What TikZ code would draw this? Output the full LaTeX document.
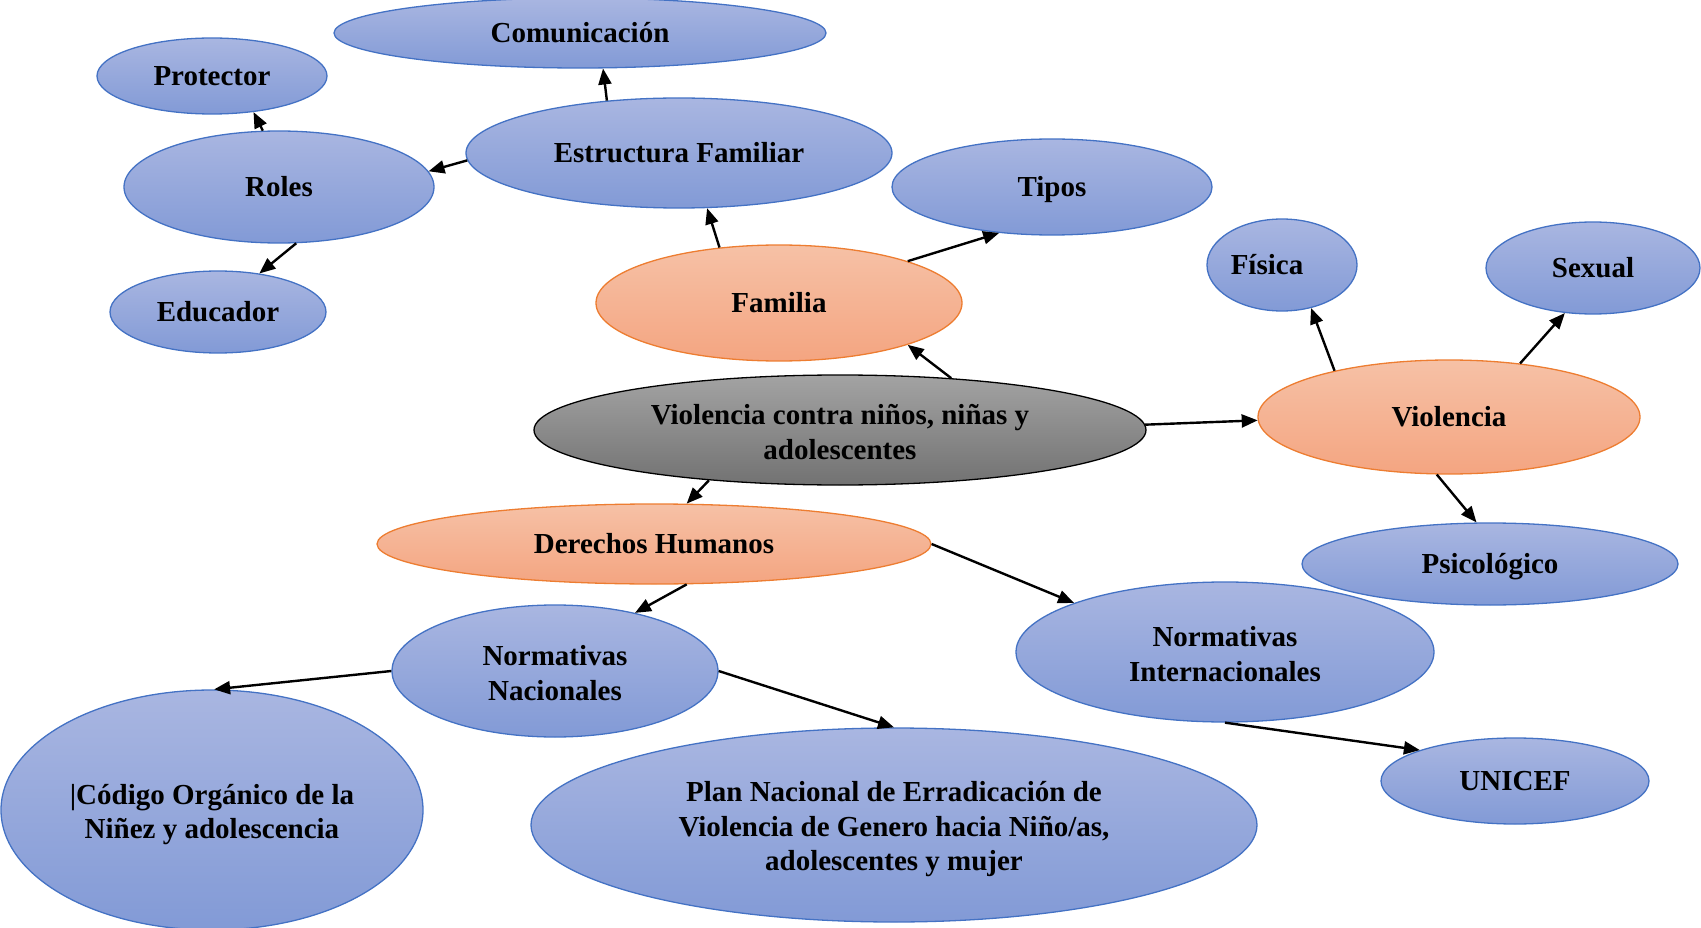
\documentclass[tikz,border=0pt]{standalone}
\usepackage{fontspec}
\setmainfont{Liberation Serif}
\usetikzlibrary{shapes.geometric,arrows.meta}
\definecolor{blueT}{RGB}{169,182,225}
\definecolor{blueB}{RGB}{130,154,214}
\definecolor{blueL}{RGB}{68,114,196}
\definecolor{orT}{RGB}{246,193,166}
\definecolor{orB}{RGB}{244,165,129}
\definecolor{orL}{RGB}{237,125,49}
\definecolor{grT}{RGB}{163,163,163}
\definecolor{grB}{RGB}{114,114,114}
\newcommand\mystrut{\rule[-6pt]{0pt}{31pt}}
\tikzset{
  base/.style={ellipse, inner sep=0pt, align=center, line width=1.3pt,
    font=\fontsize{29}{34.5}\selectfont\bfseries,
    execute at begin node=\mystrut, execute at end node=\mystrut},
  multi/.style={execute at begin node={\rule{0pt}{#1pt}}},
  bluebox/.style={base, draw=blueL, top color=blueT, bottom color=blueB},
  orbox/.style={base, draw=orL, top color=orT, bottom color=orB},
  graybox/.style={base, draw=black, top color=grT, bottom color=grB},
  sz/.style 2 args={minimum width=#1pt, minimum height=#2pt},
  conn/.style={line width=2.4pt, -{Triangle[length=16pt,width=13pt]}}
}
\begin{document}
\begin{tikzpicture}[x=1pt,y=-1pt]
\useasboundingbox (0,0) rectangle (1701,928);
% nodes
\node[bluebox, sz={492}{70}] (com) at (580,33) {Comunicación};
\node[bluebox, sz={230}{76}] (prot) at (212,76) {Protector};
\node[bluebox, sz={426}{110}] (estr) at (679,153) {Estructura Familiar};
\node[bluebox, sz={310}{112}] (roles) at (279,187) {Roles};
\node[bluebox, sz={320}{96}] (tipos) at (1052,187) {Tipos};
\node[bluebox, sz={216}{82}] (edu) at (218,312) {Educador};
\node[orbox, sz={366}{116}] (fam) at (779,303) {Familia};
\node[bluebox, sz={150}{92}] (fis) at (1282,265) {Física\hspace*{30pt}};
\node[bluebox, sz={214}{92}] (sex) at (1593,268) {Sexual};
\node[graybox, multi=64, sz={612}{110}] (cen) at (840,430) {Violencia contra niños, niñas y\\adolescentes};
\node[orbox, sz={382}{114}] (viol) at (1449,417) {Violencia};
\node[orbox, sz={554}{80}] (der) at (654,544) {Derechos Humanos};
\node[bluebox, sz={376}{82}] (psic) at (1490,564) {Psicológico};
\node[bluebox, multi=64, sz={326}{132}] (nn) at (555,671) {Normativas\\Nacionales};
\node[bluebox, multi=64, sz={418}{140}] (ni) at (1225,652) {Normativas\\Internacionales};
\node[bluebox, multi=64, sz={422}{240}] (cod) at (212,810) {|Código Orgánico de la\\Niñez y adolescencia};
\node[bluebox, multi=98, sz={726}{194}] (plan) at (894,825) {Plan Nacional de Erradicación de\\Violencia de Genero hacia Niño/as,\\adolescentes y mujer};
\node[bluebox, sz={268}{86}] (un) at (1515,781) {UNICEF};
% connectors
\draw[conn] (estr.144) -- (com.-57);
\draw[conn] (estr.182) -- (roles.6);
\draw[conn] (roles.106) -- (prot.-41);
\draw[conn] (roles.-73) -- (edu.43);
\draw[conn] (fam.137) -- (estr.-63);
\draw[conn] (fam.18) -- (tipos.-139);
\draw[conn] (cen.25) -- (fam.-18);
\draw[conn] (cen.1) -- (viol.181);
\draw[conn] (cen.-159) -- (der.51);
\draw[conn] (viol.158) -- (fis.-56);
\draw[conn] (viol.37) -- (sex.-122);
\draw[conn] (viol.-102) -- (psic.108);
\draw[conn] (der.-51) -- (nn.36);
\draw[conn] (der.0) -- (ni.162);
\draw[conn] (nn.180) -- (cod.89);
\draw[conn] (nn.0) -- (plan.90);
\draw[conn] (ni.-90) -- (un.162);
\end{tikzpicture}
\end{document}
